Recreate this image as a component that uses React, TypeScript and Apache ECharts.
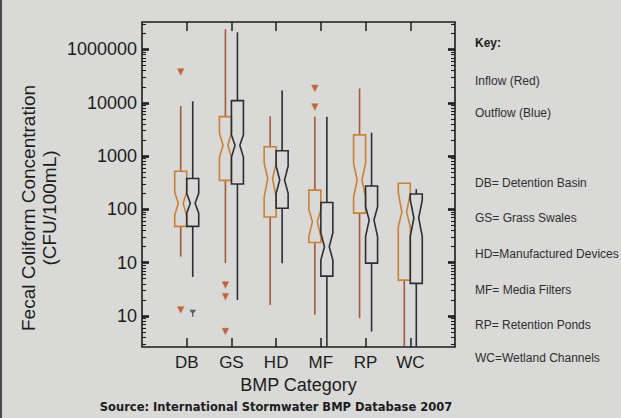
import React, { useEffect, useRef } from 'react';
import * as echarts from 'echarts';

// BMP categories and their positions on the x scale
const categories = ['DB', 'GS', 'HD', 'MF', 'RP', 'WC'];
const categoryPositions = [1, 2, 3, 4, 5, 6];

// Each row: [whiskerLow, q1, notchLow, median, notchHigh, q3, whiskerHigh]
const inflowStats = [
  [13, 48, 78, 130, 210, 520, 8700],
  [9.8, 350, 950, 1600, 2700, 5500, 240000],
  [1.6, 72, 170, 380, 740, 1500, 5600],
  [1.05, 24, 31, 59, 98, 230, 5500],
  [0.91, 85, 170, 355, 740, 2500, 18600],
  [0.27, 4.7, 47, 89, 204, 310, 310],
];
const outflowStats = [
  [5.4, 48, 85, 130, 200, 380, 10700],
  [2.0, 300, 950, 1600, 2500, 11000, 210000],
  [9.8, 105, 200, 355, 650, 1260, 17000],
  [0.27, 5.6, 11.2, 20, 36, 135, 5500],
  [0.51, 9.8, 31, 63, 112, 275, 2750],
  [0.27, 4.1, 31, 69, 151, 195, 240],
];

// Outliers: [categoryPosition, value]
const inflowOutliers = [
  [1, 38000], [1, 1.3],
  [2, 3.8], [2, 2.3], [2, 0.51],
  [4, 18600], [4, 8300],
];
const outflowOutliers = [[1, 1.12]];

// Y axis ticks and their printed labels (as printed in the source)
const yTickValues = [1, 10, 100, 1000, 10000, 100000];
const yTickLabels = ['10', '10', '100', '1000', '10000', '1000000'];
const yMin = 0.262;
const yMax = 328000;
const yMinorValues = [0.1, 1, 10, 100, 1000, 10000, 100000]
  .flatMap((d) => [2, 3, 4, 5, 6, 7, 8, 9].map((m) => +(d * m).toPrecision(3)))
  .filter((v) => v > yMin && v < yMax);

const keyLines = [
  'DB= Detention Basin',
  'GS= Grass Swales',
  'HD=Manufactured Devices',
  'MF= Media Filters',
  'RP= Retention Ponds',
  'WC=Wetland Channels',
];

const FONT = 'Liberation Sans, Arial, Helvetica, sans-serif';
const INK = '#1c1c1c';

function boxSeries(name: string, stats: number[][], offset: number, boxColor: string, whiskerColor: string) {
  return {
    name,
    type: 'custom',
    xAxisIndex: 0,
    yAxisIndex: 0,
    clip: true,
    encode: { x: 0, y: [1, 2, 3, 4, 5, 6, 7] },
    data: stats.map((s, i) => [categoryPositions[i], ...s]),
    renderItem: (_params: any, api: any) => {
      const xv = api.value(0);
      const c = (k: number) => api.coord([xv, api.value(k)]);
      const cx = c(1)[0] + offset;
      const [wl, q1, nl, md, nh, q3, wh] = [1, 2, 3, 4, 5, 6, 7].map((k) => c(k)[1]);
      const hw = 6;
      const nw = 2.4;
      const pts = [
        [cx - hw, q1], [cx - hw, nl], [cx - nw, md], [cx - hw, nh], [cx - hw, q3],
        [cx + hw, q3], [cx + hw, nh], [cx + nw, md], [cx + hw, nl], [cx + hw, q1],
      ];
      return {
        type: 'group',
        children: [
          { type: 'line', shape: { x1: cx, y1: q3, x2: cx, y2: wh }, style: { stroke: whiskerColor, lineWidth: 1.6 } },
          { type: 'line', shape: { x1: cx, y1: q1, x2: cx, y2: wl }, style: { stroke: whiskerColor, lineWidth: 1.6 } },
          { type: 'polygon', shape: { points: pts }, style: { fill: 'none', stroke: boxColor, lineWidth: 1.6 } },
        ],
      };
    },
  };
}

function yAxisDef(position: 'left' | 'right', ticks: number[], len: number, width: number, labels: boolean) {
  return {
    type: 'log',
    logBase: 10,
    min: yMin,
    max: yMax,
    position,
    axisLine: { show: false },
    splitLine: { show: false },
    minorTick: { show: false },
    axisTick: {
      show: true,
      inside: true,
      length: len,
      customValues: ticks,
      lineStyle: { color: INK, width },
    },
    axisLabel: labels
      ? {
          show: true,
          customValues: yTickValues,
          margin: 5,
          fontSize: 18,
          fontFamily: FONT,
          color: INK,
          formatter: (v: number) => {
            const i = yTickValues.findIndex((t) => Math.abs(Math.log10(t) - Math.log10(v)) < 1e-6);
            return i >= 0 ? yTickLabels[i] : '';
          },
        }
      : { show: false },
  };
}

export default function App() {
  const ref = useRef<HTMLDivElement>(null);

  useEffect(() => {
    if (!ref.current) return;
    const chart = echarts.init(ref.current, null, { renderer: 'svg' });
    const xAxisBase = {
      type: 'value',
      min: 0,
      max: 7,
      axisLine: { show: false },
      splitLine: { show: false },
    };
    chart.setOption({
      animation: false,
      backgroundColor: '#d9d9d7',
      grid: {
        left: 142,
        top: 22,
        width: 313,
        height: 325,
        show: true,
        borderColor: INK,
        borderWidth: 1.6,
        backgroundColor: 'transparent',
      },
      xAxis: [
        {
          ...xAxisBase,
          position: 'bottom',
          axisTick: { show: true, inside: true, length: 9, customValues: categoryPositions, lineStyle: { color: INK, width: 1.5 } },
          axisLabel: {
            show: true,
            customValues: categoryPositions,
            margin: 7,
            fontSize: 17,
            fontFamily: FONT,
            color: INK,
            formatter: (v: number) => categories[Math.round(v) - 1] ?? '',
          },
          name: 'BMP Category',
          nameLocation: 'middle',
          nameGap: 25,
          nameTextStyle: { fontSize: 18, fontFamily: FONT, color: INK },
        },
        {
          ...xAxisBase,
          position: 'top',
          axisTick: { show: true, inside: true, length: 9, customValues: categoryPositions, lineStyle: { color: INK, width: 1.5 } },
          axisLabel: { show: false },
        },
      ],
      yAxis: [
        yAxisDef('left', yTickValues, 7, 2.6, true),
        yAxisDef('left', yMinorValues, 4, 1.1, false),
        yAxisDef('right', yTickValues, 7, 2.6, false),
        yAxisDef('right', yMinorValues, 4, 1.1, false),
      ],
      series: [
        boxSeries('Inflow', inflowStats, -6, '#c98139', '#a5583a'),
        boxSeries('Outflow', outflowStats, 6, '#2b2e36', '#2b2e36'),
        {
          name: 'Inflow outliers',
          type: 'scatter',
          xAxisIndex: 0,
          yAxisIndex: 0,
          data: inflowOutliers,
          symbol: 'triangle',
          symbolRotate: 180,
          symbolSize: 7,
          symbolOffset: [-6, 0],
          itemStyle: { color: '#b0442c', borderColor: '#d99a45', borderWidth: 0.6 },
        },
        {
          name: 'Outflow outliers',
          type: 'scatter',
          xAxisIndex: 0,
          yAxisIndex: 0,
          data: outflowOutliers,
          symbol: 'path://M0,0 L10,0 L6,5 L6,10 L4,10 L4,5 Z',
          symbolSize: [7, 7],
          symbolOffset: [6, 0],
          itemStyle: { color: '#3a4150' },
        },
      ],
      graphic: [
        { type: 'rect', left: 0, top: 0, shape: { width: 2, height: 418 }, style: { fill: '#4a4a4a' } },
        {
          type: 'text', x: 28, y: 208, rotation: Math.PI / 2,
          style: { text: 'Fecal Coliform Concentration', fontSize: 19, fontFamily: FONT, fill: INK, align: 'center', verticalAlign: 'middle' },
        },
        {
          type: 'text', x: 49, y: 208, rotation: Math.PI / 2,
          style: { text: '(CFU/100mL)', fontSize: 19, fontFamily: FONT, fill: INK, align: 'center', verticalAlign: 'middle' },
        },
        {
          type: 'text', x: 276, y: 407,
          style: { text: 'Source: International Stormwater BMP Database 2007', fontSize: 11.5, fontWeight: 'bold', fontFamily: 'DejaVu Sans, Liberation Sans, sans-serif', fill: INK, align: 'center', verticalAlign: 'middle' },
        },
        {
          type: 'text', x: 475, y: 43,
          style: { text: 'Key:', fontSize: 12, fontWeight: 'bold', fontFamily: FONT, fill: '#222', align: 'left', verticalAlign: 'middle' },
        },
        {
          type: 'text', x: 475, y: 81,
          style: { text: 'Inflow (Red)', fontSize: 12, fontFamily: FONT, fill: '#2e2e2e', align: 'left', verticalAlign: 'middle' },
        },
        {
          type: 'text', x: 475, y: 113,
          style: { text: 'Outflow (Blue)', fontSize: 12, fontFamily: FONT, fill: '#2e2e2e', align: 'left', verticalAlign: 'middle' },
        },
        ...keyLines.map((t, i) => ({
          type: 'text', x: 475, y: [183, 218, 254, 290, 325, 358][i],
          style: { text: t, fontSize: 12, fontFamily: FONT, fill: '#2e2e2e', align: 'left', verticalAlign: 'middle' },
        })),
      ],
    });
    return () => chart.dispose();
  }, []);

  return <div ref={ref} style={{ position: 'absolute', left: 0, top: 0, width: 621, height: 418 }} />;
}
